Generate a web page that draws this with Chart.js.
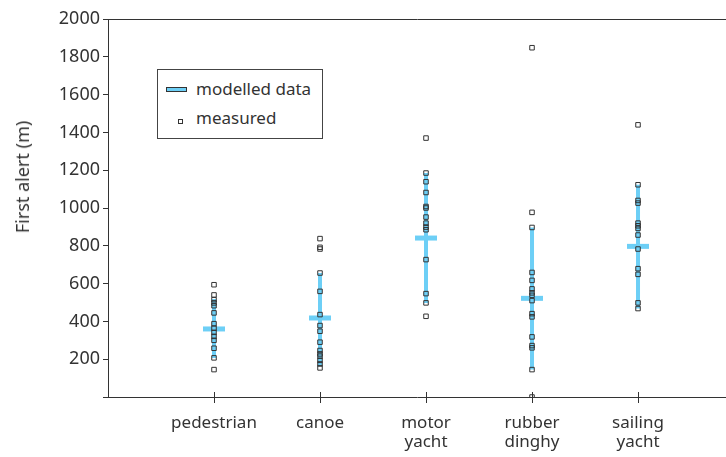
<!DOCTYPE html>
<html>
<head>
<meta charset="utf-8">
<script src="https://cdn.jsdelivr.net/npm/chart.js@4"></script>
<style>
  html, body { margin: 0; overflow: hidden; background: #fff; font-family: "Noto Sans", sans-serif; color: #333; }
  #wrap { position: relative; width: 726px; height: 457px; overflow: hidden; }
  #chart { display: block; }
  #yTitle { position: absolute; left: 22px; top: 177px; transform: translate(-50%, -50%) rotate(-90deg);
            font-size: 18px; white-space: nowrap; color: #333; }
  #legend { position: absolute; left: 157px; top: 69px; width: 164px; height: 68px; border: 1px solid #444; background: #fff; }
  .lg-row { position: absolute; left: 38px; font-size: 17px; line-height: 20px; color: #333; white-space: nowrap; }
  .lg-bar { position: absolute; left: 8px; top: 17px; width: 19px; height: 3px; background: #6dcff6; border: 1px solid #333; }
  .lg-sq { position: absolute; left: 20px; top: 49px; width: 3px; height: 3px; border: 1px solid #333; background: #fff; }
</style>
</head>
<body>
<div id="wrap">
  <canvas id="chart" width="726" height="457"></canvas>
  <div id="yTitle">First alert (m)</div>
  <div id="legend">
    <div class="lg-bar"></div>
    <div class="lg-row" style="top:9px">modelled data</div>
    <div class="lg-sq"></div>
    <div class="lg-row" style="top:38px">measured</div>
  </div>
</div>
<script>
const categories = ['pedestrian', 'canoe', ['motor', 'yacht'], ['rubber', 'dinghy'], ['sailing', 'yacht']];
const yTicks = [0, 200, 400, 600, 800, 1000, 1200, 1400, 1600, 1800, 2000];

// modelled data: mean and range per category
const modelMean = [360, 418, 841, 522, 797];
const modelLow = [207, 163, 498, 145, 468];
const modelHigh = [519, 656, 1185, 897, 1123];

// measured first alert distances
const pedestrian = [594, 540, 515, 498, 483, 445, 388, 364, 342, 321, 300, 258, 207, 145];
const canoe = [838, 792, 783, 656, 559, 436, 378, 348, 290, 246, 228, 216, 194, 175, 154];
const motorYacht = [1370, 1185, 1139, 1082, 1008, 1000, 952, 920, 899, 885, 727, 547, 498, 427];
const rubberDinghy = [1848, 977, 897, 659, 617, 572, 551, 538, 510, 441, 424, 318, 272, 260, 145, 0];
const sailingYacht = [1440, 1123, 1040, 1026, 920, 906, 892, 857, 783, 679, 649, 498, 468];

const BLUE = '#6dcff6';
const INK = '#333';

const measuredByCat = [pedestrian, canoe, motorYacht, rubberDinghy, sailingYacht];
const measuredPts = [];
measuredByCat.forEach((vals, i) => vals.forEach(v => measuredPts.push({ x: i, y: v })));

const rangePts = [];
modelLow.forEach((lo, i) => {
  rangePts.push({ x: i, y: lo }, { x: i, y: modelHigh[i] }, { x: i + 0.5, y: null });
});
const meanPts = modelMean.map((v, i) => ({ x: i, y: v }));

// category ticks in the reference cross the axis line, draw the upper half
const innerTicks = {
  id: 'innerTicks',
  afterDraw(chart) {
    const { ctx, chartArea, scales } = chart;
    ctx.save();
    ctx.strokeStyle = INK;
    ctx.lineWidth = 1;
    categories.forEach((c, i) => {
      const px = Math.round(scales.x.getPixelForValue(i)) + 0.5;
      ctx.beginPath();
      ctx.moveTo(px, chartArea.bottom);
      ctx.lineTo(px, chartArea.bottom - 5);
      ctx.stroke();
    });
    ctx.restore();
  }
};

new Chart(document.getElementById('chart'), {
  type: 'scatter',
  data: {
    datasets: [
      {
        label: 'measured',
        data: measuredPts,
        pointStyle: 'rect',
        pointRadius: 3.2,
        borderColor: INK,
        borderWidth: 1,
        backgroundColor: 'rgba(0,0,0,0)',
        order: 1
      },
      {
        label: 'modelled mean',
        data: meanPts,
        pointStyle: 'line',
        pointRadius: 11,
        borderColor: BLUE,
        borderWidth: 5,
        order: 2
      },
      {
        label: 'modelled range',
        data: rangePts,
        showLine: true,
        spanGaps: false,
        pointRadius: 0,
        borderColor: BLUE,
        borderWidth: 4,
        borderCapStyle: 'butt',
        order: 3
      }
    ]
  },
  options: {
    responsive: false,
    animation: false,
    events: [],
    layout: { autoPadding: false, padding: { top: 19, right: 0, left: 0, bottom: 0 } },
    plugins: { legend: { display: false }, tooltip: { enabled: false } },
    scales: {
      x: {
        type: 'linear',
        min: -1,
        max: 4.83,
        afterFit: s => { s.height = 60; },
        afterBuildTicks: s => { s.ticks = categories.map((c, i) => ({ value: i })); },
        grid: { display: true, drawOnChartArea: false, tickLength: 6, color: INK },
        border: { display: true, color: INK, width: 1 },
        ticks: {
          color: INK,
          padding: 10,
          maxRotation: 0,
          autoSkip: false,
          font: { family: 'Noto Sans', size: 17, lineHeight: 1.15 },
          callback: v => categories[v]
        }
      },
      xTop: {
        type: 'linear',
        position: 'top',
        min: -1,
        max: 4.83,
        afterFit: s => { s.height = 0; },
        grid: { display: false },
        border: { display: true, color: INK, width: 1 },
        ticks: { display: false }
      },
      y: {
        min: 0,
        max: 2000,
        afterFit: s => { s.width = 108; },
        afterBuildTicks: s => { s.ticks = yTicks.map(v => ({ value: v })); },
        grid: { display: true, drawOnChartArea: false, tickLength: 5, color: INK },
        border: { display: true, color: INK, width: 1 },
        ticks: {
          color: INK,
          padding: 3,
          font: { family: 'Noto Sans', size: 18 },
          callback: v => (v === 0 ? '' : String(v))
        }
      }
    }
  },
  plugins: [innerTicks]
});
</script>
</body>
</html>
